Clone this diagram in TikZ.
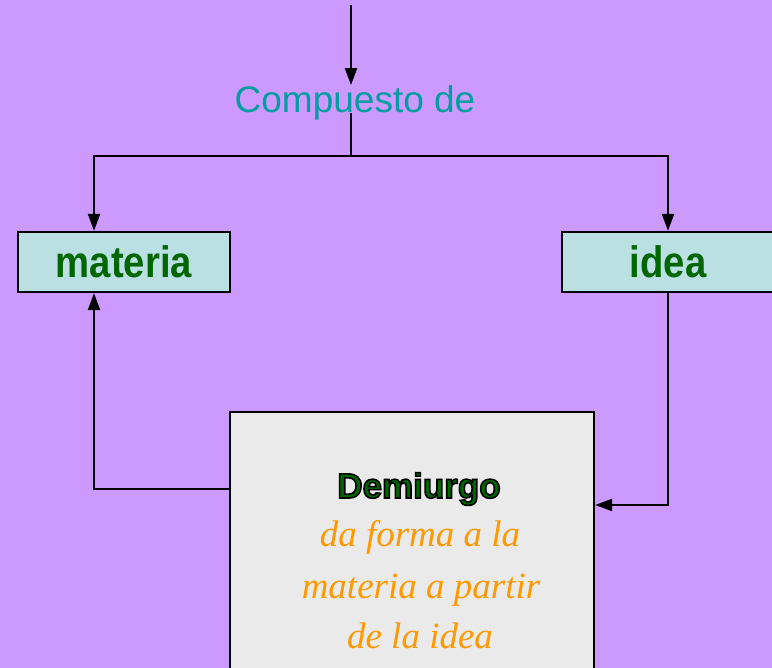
\documentclass[tikz,border=0pt]{standalone}
\usepackage{fontspec}
\setmainfont{Liberation Sans}
\newfontfamily\narrowfont[FakeStretch=0.87]{Liberation Sans}
\newfontfamily\handfont{Liberation Serif}
\usetikzlibrary{arrows.meta}
\definecolor{lilac}{RGB}{204,153,255}
\definecolor{paleblue}{RGB}{186,224,227}
\definecolor{leaf}{RGB}{0,102,0}
\definecolor{sea}{RGB}{0,158,158}
\definecolor{amber}{RGB}{255,153,0}
\definecolor{stone}{RGB}{234,234,234}
% green text with a dark rim
\newcommand{\rimmed}[1]{\special{pdf:literal direct 2 Tr 0 0 0 RG 1.6 w}#1\special{pdf:literal direct 0 Tr}}
\begin{document}
\begin{tikzpicture}[x=1pt,y=-1pt,line width=2.2pt,>={Triangle[length=17pt,width=12pt]},
    concept/.style={draw,fill=paleblue,minimum width=212pt,minimum height=60pt,inner sep=0pt,
      text=leaf,font=\narrowfont\bfseries\fontsize{44}{44}\selectfont},
    orangeline/.style={anchor=base,text=amber,font=\handfont\itshape\fontsize{37}{37}\selectfont}]
  \useasboundingbox (0,0) rectangle (772,668);
  \fill[lilac] (0,0) rectangle (772,668);
  \clip (0,0) rectangle (772,668);
  % header
  \node[anchor=base,text=sea,inner sep=0pt,font=\fontsize{37}{37}\selectfont] (comp) at (355,113) {Compuesto de};
  \coordinate (src) at (351,5);
  \coordinate (split) at (351,156);
  \draw[->] (src) -- (comp.north -| src);
  \draw (comp.base -| src) -- (split);
  % the two boxes
  \node[concept] (mat) at (124,262) {materia};
  \node[concept] (idea) at (668,262) {idea};
  \draw[->] (split) -| ([xshift=-30pt]mat.north);
  \draw[->] (split) -| (idea.north);
  % demiurgo
  \node[draw,fill=stone,minimum width=364pt,minimum height=300pt,inner sep=0pt] (dem) at (412,562) {};
  \node[anchor=base,inner sep=0pt,text=leaf,font=\bfseries\fontsize{35}{35}\selectfont] (title) at (419,498) {\rimmed{Demiurgo}};
  \node[orangeline] (line1) at (420,547) {da forma a la};
  \node[orangeline] (line2) at (421,598) {materia a partir};
  \node[orangeline] (line3) at (420,648) {de la idea};
  \draw[->] ([yshift=73pt]dem.west) -| ([xshift=-30pt]mat.south);
  \draw[->] (idea.south) |- ([yshift=57pt]dem.east);
\end{tikzpicture}
\end{document}
